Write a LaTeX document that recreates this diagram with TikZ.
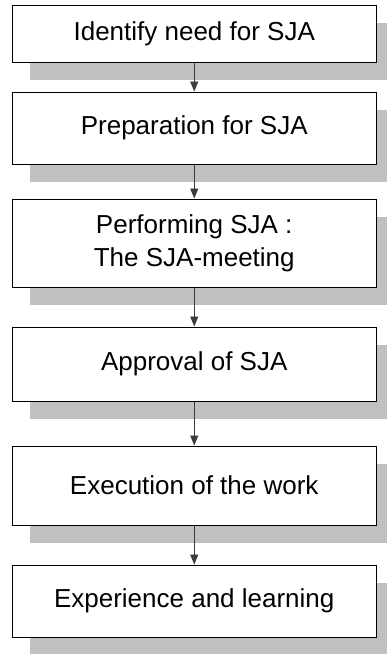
\documentclass[tikz,border=0pt]{standalone}
\usepackage{fontspec}
\setmainfont{Liberation Sans}
\usepackage{xcolor}
\usetikzlibrary{shadows,arrows.meta}
\definecolor{shadowgray}{RGB}{192,192,192}
\definecolor{linkgray}{RGB}{60,60,60}
\tikzset{>={Triangle[width=8pt,length=10pt]}}
\tikzset{stepbox/.style={draw=black, line width=1pt, fill=white,
    minimum width=363.5pt, align=center, inner sep=0pt,
    font=\fontsize{26}{33}\selectfont,
    drop shadow={shadow xshift=17pt, shadow yshift=-18pt,
      fill=shadowgray, opacity=1}}}

\begin{document}
\begin{tikzpicture}[x=1pt,y=-1pt]
  \useasboundingbox (0,0) rectangle (387,654);
  \node[stepbox, minimum height=57pt] (need) at (194.25,33.5) {Identify need for SJA};
  \node[stepbox, minimum height=72pt] (prep) at (194.25,128) {Preparation for SJA};
  \node[stepbox, minimum height=88pt] (meet) at (194.25,243) {Performing SJA :\\The SJA-meeting};
  \node[stepbox, minimum height=74pt] (appr) at (194.25,364) {Approval of SJA};
  \node[stepbox, minimum height=79pt] (exec) at (194.25,485.5) {Execution of the work};
  \node[stepbox, minimum height=72pt] (learn) at (194.25,601) {Experience and learning};
  % links between the steps
  \foreach \a/\b in {need/prep, prep/meet, meet/appr, appr/exec, exec/learn}
    \draw[->, draw=linkgray, line width=0.9pt] (\a) -- (\b);
\end{tikzpicture}
\end{document}
